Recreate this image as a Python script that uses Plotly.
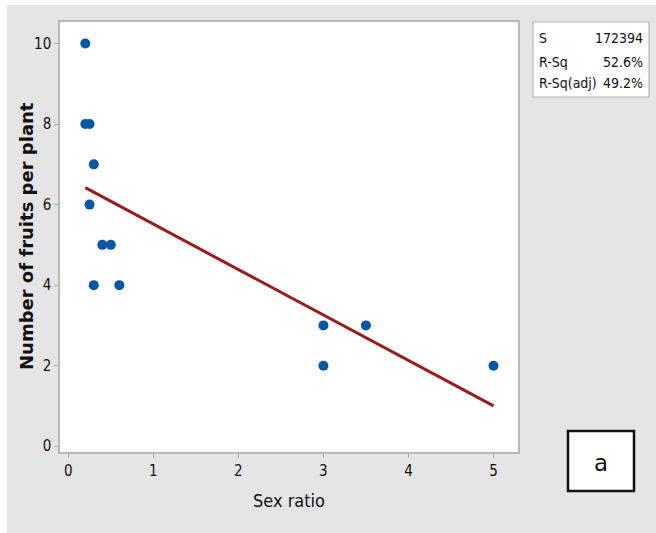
import plotly.graph_objects as go

# ---- data ----
sex_ratio = [0.2, 0.2, 0.25, 0.3, 0.25, 0.4, 0.5, 0.3, 0.6, 3.0, 3.0, 3.5, 5.0]
fruits    = [10, 8, 8, 7, 6, 5, 5, 4, 4, 3, 2, 3, 2]
fit_x     = [0.2, 5.0]
fit_y     = [6.42, 1.0]
x_ticks   = [0, 1, 2, 3, 4, 5]
y_ticks   = [0, 2, 4, 6, 8, 10]
stat_names  = ["S", "R-Sq", "R-Sq(adj)"]
stat_values = ["172394", "52.6%", "49.2%"]
panel_label = "a"

W, H = 656, 533
L, R, T, B = 60, 518, 22, 452
PW, PH = R - L, B - T

def px(x):
    return (x - L) / PW

def py(y):
    return (B - y) / PH

NARROW = "DejaVu Sans Condensed, Liberation Sans Narrow, Arial Narrow, sans-serif"

fig = go.Figure()
fig.add_trace(go.Scatter(
    x=fit_x, y=fit_y, mode="lines",
    line=dict(color="#9b1c1c", width=3),
    hoverinfo="skip", showlegend=False))
fig.add_trace(go.Scatter(
    x=sex_ratio, y=fruits, mode="markers",
    marker=dict(color="#0757a6", size=10, line=dict(width=0)),
    showlegend=False))

shapes = [
    # white strips on the left and top edges
    dict(type="rect", xref="paper", yref="paper", x0=px(0), x1=px(7), y0=py(H), y1=py(0),
         fillcolor="white", line=dict(width=0), layer="above"),
    dict(type="rect", xref="paper", yref="paper", x0=px(0), x1=px(W), y0=py(5), y1=py(0),
         fillcolor="white", line=dict(width=0), layer="above"),
    # stats box
    dict(type="rect", xref="paper", yref="paper", x0=px(533), x1=px(649), y0=py(97), y1=py(22),
         fillcolor="white", line=dict(color="#b4b4b4", width=1.2), layer="above"),
    # panel label box
    dict(type="rect", xref="paper", yref="paper", x0=px(568), x1=px(634), y0=py(491), y1=py(431),
         fillcolor="white", line=dict(color="#111111", width=2.5), layer="above"),
]

annotations = []
row_y = [38, 62, 83]
for name, val, yy in zip(stat_names, stat_values, row_y):
    annotations.append(dict(xref="paper", yref="paper", x=px(537), y=py(yy), text=name,
                            showarrow=False, xanchor="left", yanchor="middle",
                            font=dict(family=NARROW, size=14, color="#111111")))
    annotations.append(dict(xref="paper", yref="paper", x=px(645), y=py(yy), text=val,
                            showarrow=False, xanchor="right", yanchor="middle",
                            font=dict(family=NARROW, size=14, color="#111111")))
annotations.append(dict(xref="paper", yref="paper", x=px(601), y=py(463), text=panel_label,
                        showarrow=False, xanchor="center", yanchor="middle",
                        font=dict(family="DejaVu Sans, sans-serif", size=23, color="#111111")))
annotations.append(dict(xref="paper", yref="paper", x=px(27), y=py(236),
                        text="<b>Number of fruits per plant</b>", textangle=-90,
                        showarrow=False, xanchor="center", yanchor="middle",
                        font=dict(family="DejaVu Sans, sans-serif", size=18, color="#111111")))
annotations.append(dict(xref="paper", yref="paper", x=px(289), y=py(500),
                        text="Sex ratio",
                        showarrow=False, xanchor="center", yanchor="middle",
                        font=dict(family=NARROW, size=18, color="#111111")))

axis_common = dict(
    showgrid=False, zeroline=False, showline=True, linecolor="#b8b8b8", linewidth=1.5,
    mirror=True, ticks="outside", ticklen=4, tickcolor="#b0b0b0", tickwidth=1,
    tickfont=dict(family=NARROW, size=15, color="#111111"))

fig.update_layout(
    width=W, height=H,
    margin=dict(l=L, r=W - R, t=T, b=H - B, pad=0),
    paper_bgcolor="#e5e5e5", plot_bgcolor="white",
    xaxis=dict(range=[-0.0975, 5.288], tickvals=x_ticks, **axis_common),
    yaxis=dict(range=[-0.144, 10.535], tickvals=y_ticks, **axis_common),
    shapes=shapes, annotations=annotations, showlegend=False)

fig.write_html("out.html", config={"displayModeBar": False},
               post_script="document.body.style.margin='0';")
